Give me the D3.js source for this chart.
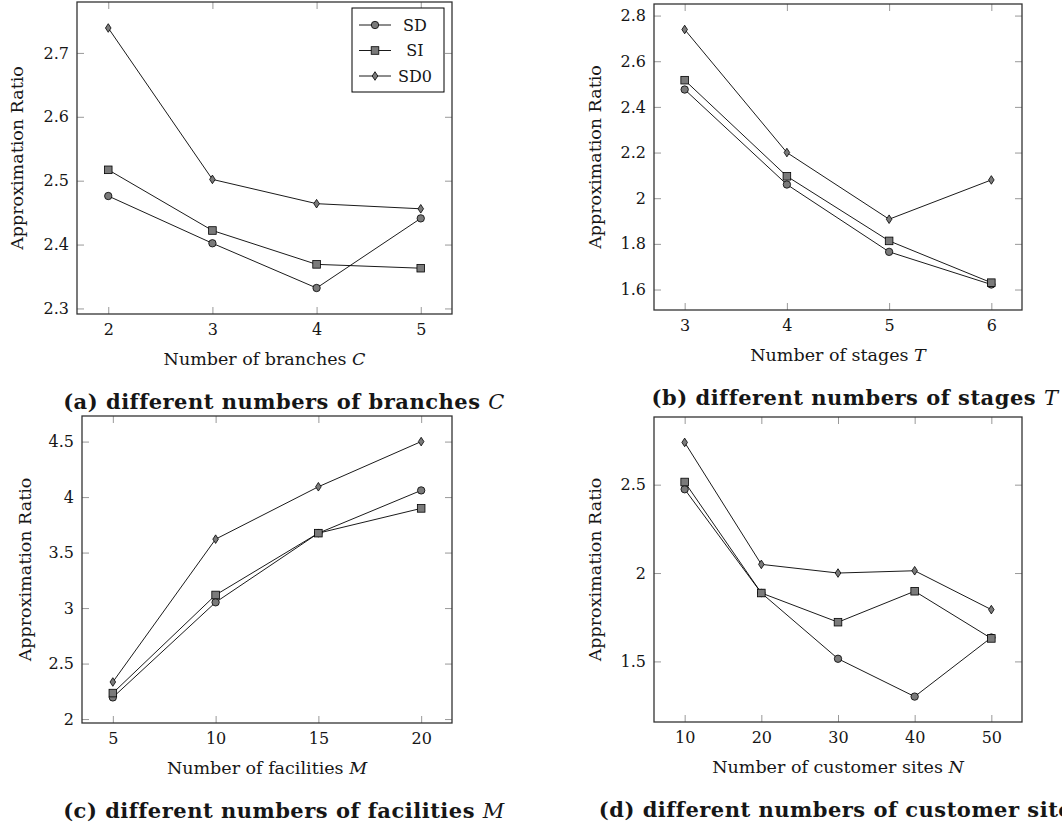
<!DOCTYPE html>
<html>
<head>
<meta charset="utf-8">
<script src="https://cdn.jsdelivr.net/npm/d3@7"></script>
<style>
  body { margin: 0; background: #fff; }
  svg { display: block; font-family: "DejaVu Serif", "Liberation Serif", serif; }
</style>
</head>
<body>
<svg id="chart" width="1062" height="824"></svg>
<script>
// Series names
const seriesNames = ['SD', 'SI', 'SD0'];

// (a) branches C
const branches = [2, 3, 4, 5];
const sdC = [2.476, 2.402, 2.332, 2.441];
const siC = [2.517, 2.422, 2.369, 2.363];
const sd0C = [2.739, 2.502, 2.464, 2.456];
const ticksYC = [2.3, 2.4, 2.5, 2.6, 2.7];

// (b) stages T
const stages = [3, 4, 5, 6];
const sdT = [2.476, 2.060, 1.765, 1.622];
const siT = [2.517, 2.096, 1.813, 1.630];
const sd0T = [2.739, 2.200, 1.908, 2.080];
const ticksYT = [1.6, 1.8, 2, 2.2, 2.4, 2.6, 2.8];

// (c) facilities M
const facilities = [5, 10, 15, 20];
const sdM = [2.195, 3.052, 3.675, 4.060];
const siM = [2.234, 3.118, 3.675, 3.898];
const sd0M = [2.334, 3.621, 4.093, 4.500];
const ticksYM = [2, 2.5, 3, 3.5, 4, 4.5];

// (d) customer sites N
const sites = [10, 20, 30, 40, 50];
const sdN = [2.474, 1.887, 1.515, 1.301, 1.635];
const siN = [2.515, 1.887, 1.722, 1.897, 1.630];
const sd0N = [2.739, 2.049, 2.000, 2.013, 1.793];
const ticksYN = [1.5, 2, 2.5];

const svg = d3.select('#chart');
const markerFill = '#7a7a7a';
const textColor = '#161616';
const tickFont = '16px';
const labelFont = '17.5px';
const captionFont = '21px';

const panels = [
  { x: branches, series: [sdC, siC, sd0C], yTicks: ticksYC,
    xLabel: ['Number of branches ', 'C'], caption: ['(a) different numbers of branches ', 'C'],
    box: { left: 77, right: 452, top: 2, bottom: 314 }, yLabelX: 17, capX: 284, legend: true },
  { x: stages, series: [sdT, siT, sd0T], yTicks: ticksYT,
    xLabel: ['Number of stages ', 'T'], caption: ['(b) different numbers of stages ', 'T'],
    box: { left: 654, right: 1022, top: 4, bottom: 310 }, yLabelX: 595, capX: 855 },
  { x: facilities, series: [sdM, siM, sd0M], yTicks: ticksYM,
    xLabel: ['Number of facilities ', 'M'], caption: ['(c) different numbers of facilities ', 'M'],
    box: { left: 82, right: 452, top: 416, bottom: 723 }, yLabelX: 25, capX: 284 },
  { x: sites, series: [sdN, siN, sd0N], yTicks: ticksYN,
    xLabel: ['Number of customer sites ', 'N'], caption: ['(d) different numbers of customer sites ', 'N'],
    box: { left: 654, right: 1022, top: 417, bottom: 722 }, yLabelX: 595, capX: 855 }
];

// pgfplots-like enlarged limits (10% each side)
function enlarged(values) {
  const [lo, hi] = d3.extent(values);
  const pad = (hi - lo) * 0.1;
  return [lo - pad, hi + pad];
}

function drawMarker(sel, type) {
  if (type === 0) {
    sel.append('circle').attr('r', 3.7);
  } else if (type === 1) {
    sel.append('rect').attr('x', -3.8).attr('y', -3.8).attr('width', 7.6).attr('height', 7.6);
  } else {
    sel.append('path').attr('d', 'M0,-4.3L2.8,0L0,4.3L-2.8,0Z');
  }
  sel.selectAll('*')
    .attr('fill', markerFill)
    .attr('stroke', '#000')
    .attr('stroke-width', 0.8);
}

const fmt = d3.format('~g');

panels.forEach(p => {
  const b = p.box;
  const xScale = d3.scaleLinear().domain(enlarged(p.x)).range([b.left, b.right]);
  const yScale = d3.scaleLinear().domain(enlarged(p.series.flat())).range([b.bottom, b.top]);
  const g = svg.append('g');
  const tickLen = 7;

  // Tick marks inside on all four sides
  const xAxisB = g.append('g')
    .attr('transform', `translate(0,${b.bottom})`)
    .call(d3.axisBottom(xScale).tickValues(p.x).tickSizeInner(-tickLen).tickSizeOuter(0).tickPadding(10).tickFormat(fmt));
  const xAxisT = g.append('g')
    .attr('transform', `translate(0,${b.top})`)
    .call(d3.axisTop(xScale).tickValues(p.x).tickSizeInner(-tickLen).tickSizeOuter(0).tickFormat(''));
  const yAxisL = g.append('g')
    .attr('transform', `translate(${b.left},0)`)
    .call(d3.axisLeft(yScale).tickValues(p.yTicks).tickSizeInner(-tickLen).tickSizeOuter(0).tickPadding(8).tickFormat(fmt));
  const yAxisR = g.append('g')
    .attr('transform', `translate(${b.right},0)`)
    .call(d3.axisRight(yScale).tickValues(p.yTicks).tickSizeInner(-tickLen).tickSizeOuter(0).tickFormat(''));

  [xAxisB, xAxisT, yAxisL, yAxisR].forEach(ax => {
    ax.select('.domain').remove();
    ax.selectAll('line').attr('stroke', '#999').attr('stroke-width', 1);
    ax.selectAll('text')
      .attr('fill', textColor)
      .style('font-size', tickFont)
      .style('font-family', '"DejaVu Serif", serif');
  });
  xAxisB.selectAll('text').attr('dy', '0.71em');

  // Lines and markers
  const line = d3.line()
    .x((d, i) => xScale(p.x[i]))
    .y(d => yScale(d));
  p.series.forEach(vals => {
    g.append('path')
      .datum(vals)
      .attr('d', line)
      .attr('fill', 'none')
      .attr('stroke', '#000')
      .attr('stroke-width', 0.9);
  });
  p.series.forEach((vals, si) => {
    vals.forEach((v, i) => {
      const m = g.append('g').attr('transform', `translate(${xScale(p.x[i])},${yScale(v)})`);
      drawMarker(m, si);
    });
  });

  // Frame
  g.append('rect')
    .attr('x', b.left).attr('y', b.top)
    .attr('width', b.right - b.left).attr('height', b.bottom - b.top)
    .attr('fill', 'none').attr('stroke', '#333').attr('stroke-width', 1.3);

  // Y axis label
  g.append('text')
    .attr('transform', `translate(${p.yLabelX},${(b.top + b.bottom) / 2}) rotate(-90)`)
    .attr('text-anchor', 'middle')
    .attr('dy', '0.35em')
    .style('font-size', labelFont)
    .attr('fill', textColor)
    .text('Approximation Ratio');

  // X axis label
  const xl = g.append('text')
    .attr('x', (b.left + b.right) / 2)
    .attr('y', b.bottom + 51)
    .attr('text-anchor', 'middle')
    .style('font-size', labelFont)
    .attr('fill', textColor);
  xl.append('tspan').text(p.xLabel[0]);
  xl.append('tspan').style('font-style', 'italic').text(p.xLabel[1]);

  // Caption
  const cap = g.append('text')
    .attr('x', p.capX)
    .attr('y', b.bottom + 95)
    .attr('text-anchor', 'middle')
    .style('font-size', captionFont)
    .style('letter-spacing', '0.5px')
    .attr('fill', textColor);
  cap.append('tspan').style('font-weight', 'bold').text(p.caption[0]);
  cap.append('tspan').style('font-style', 'italic').text(p.caption[1]);

  // Legend
  if (p.legend) {
    const lg = g.append('g');
    lg.append('rect')
      .attr('x', 352).attr('y', b.top + 6)
      .attr('width', 92).attr('height', 84)
      .attr('fill', '#fff').attr('stroke', '#000').attr('stroke-width', 1);
    seriesNames.forEach((name, si) => {
      const y = b.top + 23 + si * 25.5;
      lg.append('line')
        .attr('x1', 359).attr('x2', 391).attr('y1', y).attr('y2', y)
        .attr('stroke', '#000').attr('stroke-width', 0.9);
      drawMarker(lg.append('g').attr('transform', `translate(375,${y})`), si);
      lg.append('text')
        .attr('x', 415).attr('y', y).attr('dy', '0.36em')
        .attr('text-anchor', 'middle')
        .style('font-size', tickFont)
        .attr('fill', textColor)
        .text(name);
    });
  }
});
</script>
</body>
</html>
